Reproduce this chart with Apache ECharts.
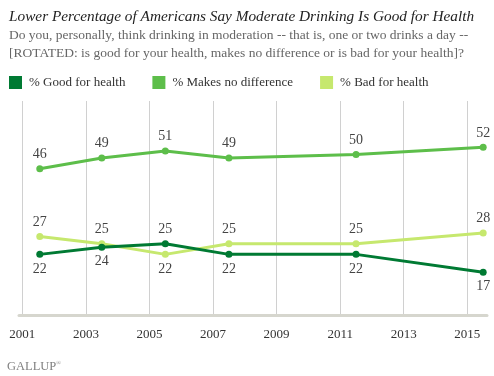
<!DOCTYPE html>
<html>
<head>
<meta charset="utf-8">
<script src="https://cdn.jsdelivr.net/npm/echarts@6/dist/echarts.min.js"></script>
<style>
  html, body { margin: 0; padding: 0; background: #fff; }
  #main { width: 494px; height: 376px; }
</style>
</head>
<body>
<div id="main"></div>
<script>
var years = [2001.55, 2003.5, 2005.5, 2007.5, 2011.5, 2015.5];
var goodForHealth = [22, 24, 25, 22, 22, 17];
var noDifference = [46, 49, 51, 49, 50, 52];
var badForHealth = [27, 25, 22, 25, 25, 28];
var tickYears = [2001, 2003, 2005, 2007, 2009, 2011, 2013, 2015];
var goodLabelPos = ['bottom', 'bottom', 'top', 'bottom', 'bottom', 'bottom'];
var badLabelPos = ['top', 'top', 'bottom', 'top', 'top', 'top'];

var serif = "'Liberation Serif', 'DejaVu Serif', serif";

function pairs(values, positions) {
  return values.map(function (v, i) {
    var item = { value: [years[i], v] };
    if (positions) item.label = { position: positions[i] };
    return item;
  });
}

var chartDom = document.getElementById('main');
var myChart = echarts.init(chartDom);
var option;

var labelStyle = {
  show: true,
  position: 'top',
  distance: 4,
  fontFamily: serif,
  fontSize: 14,
  color: '#444'
};

option = {
  animation: false,
  title: [
    {
      text: 'Lower Percentage of Americans Say Moderate Drinking Is Good for Health',
      left: 4,
      top: 4,
      textStyle: { fontFamily: serif, fontStyle: 'italic', fontWeight: 'normal', fontSize: 15.3, color: '#222' }
    },
    {
      text: 'Do you, personally, think drinking in moderation -- that is, one or two drinks a day --\n[ROTATED: is good for your health, makes no difference or is bad for your health]?',
      left: 4,
      top: 21,
      textStyle: { fontFamily: serif, fontWeight: 'normal', fontSize: 13.5, color: '#666', lineHeight: 18 }
    },
    {
      text: '{a|GALLUP}{b|®}',
      left: 2,
      top: 355,
      textStyle: {
        fontWeight: 'normal',
        rich: {
          a: { fontFamily: serif, fontWeight: 'normal', fontSize: 12.5, color: '#808080' },
          b: { fontFamily: serif, fontWeight: 'normal', fontSize: 6, color: '#808080', verticalAlign: 'top', padding: [0, 0, 6, 0] }
        }
      }
    }
  ],
  legend: {
    left: 4,
    top: 71,
    itemWidth: 13,
    itemHeight: 13,
    itemGap: 27,
    icon: 'rect',
    textStyle: { fontFamily: serif, fontSize: 13, color: '#333', padding: [0, 0, 0, 2] },
    data: ['% Good for health', '% Makes no difference', '% Bad for health']
  },
  grid: { left: 19, right: 7, top: 101, bottom: 61 },
  xAxis: {
    type: 'value',
    min: 2000.896,
    max: 2015.62,
    axisLine: { show: true, lineStyle: { color: '#d6d6ce', width: 3 } },
    axisTick: { show: false, customValues: tickYears },
    splitLine: { show: true, showMinLine: true, showMaxLine: true, lineStyle: { color: '#d0d0d0', width: 1 } },
    axisLabel: {
      customValues: tickYears,
      margin: 13,
      fontFamily: serif,
      fontSize: 13,
      color: '#333',
      formatter: function (v) { return String(v); }
    }
  },
  yAxis: {
    type: 'value',
    min: 5,
    max: 65,
    show: false,
    splitLine: { show: false }
  },
  series: [
    {
      name: '% Good for health',
      type: 'line',
      data: pairs(goodForHealth, goodLabelPos),
      color: '#007a33',
      lineStyle: { width: 3 },
      symbol: 'circle',
      symbolSize: 7,
      label: labelStyle,
      z: 4
    },
    {
      name: '% Makes no difference',
      type: 'line',
      data: pairs(noDifference),
      color: '#5dbe4a',
      lineStyle: { width: 3 },
      symbol: 'circle',
      symbolSize: 7,
      label: labelStyle,
      z: 3
    },
    {
      name: '% Bad for health',
      type: 'line',
      data: pairs(badForHealth, badLabelPos),
      color: '#c6e86e',
      lineStyle: { width: 3 },
      symbol: 'circle',
      symbolSize: 7,
      label: labelStyle,
      z: 2
    }
  ]
};
myChart.setOption(option);
</script>
</body>
</html>
